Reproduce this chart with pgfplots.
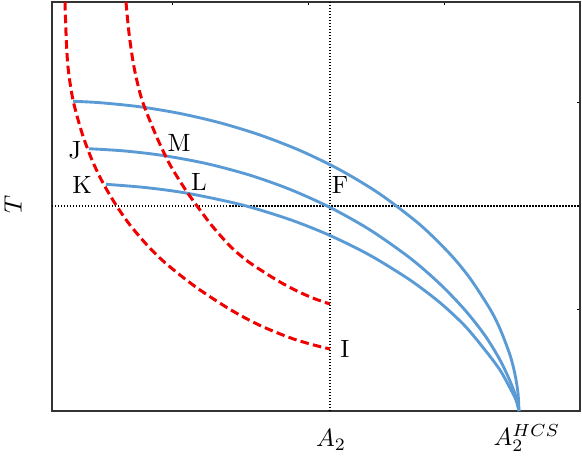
\documentclass[border=0pt]{standalone}
\usepackage{pgfplots}
\pgfplotsset{compat=1.18}

\definecolor{curveblue}{RGB}{91,155,213}
\definecolor{curvered}{RGB}{240,0,0}

\begin{document}
\begin{tikzpicture}
\begin{axis}[
  scale only axis,
  width=211.2pt, height=163.6pt,
  xmin=52, xmax=580, ymin=2, ymax=411,
  y dir=reverse,
  clip=false,
  xtick={173,309,445}, ytick={103,310},
  xticklabels={}, yticklabels={},
  xtick pos=right, ytick pos=right,
  tick align=inside,
  major tick length=1.3pt,
  tick style={black, line width=0.4pt},
  axis line style={black!80, line width=0.6pt},
]
% dotted guide lines
\addplot[black, line width=0.75pt, dash pattern=on 0.6pt off 0.6pt] coordinates {(330,2) (330,411)};
\addplot[black, line width=0.75pt, dash pattern=on 0.6pt off 0.6pt] coordinates {(52,206) (580,206)};

% blue curves
\addplot[curveblue, line width=1.15pt, smooth] coordinates {
  (73,101.3) (100,102.7) (140,106.8) (180,113.5) (220,122.8) (260,135.0)
  (300,150.5) (340,169.9) (380,194.1) (420,224.7) (450,254) (470,278.3)
  (490,309) (500,328.8) (510,355) (515,374.4) (518,393.3) (519,411)};
\addplot[curveblue, line width=1.15pt, smooth] coordinates {
  (89,148.7) (125,151) (163,155.5) (207,163.7) (250,175.2) (290,189.4)
  (330,207.4) (370,229.9) (410,258) (440,284) (465,310.1) (485,335.5)
  (500,360) (510,381) (516,397) (519,411)};
\addplot[curveblue, line width=1.15pt, smooth] coordinates {
  (106,184.3) (145,187.5) (187,193.2) (242,204.9) (290,219.6) (330,235.5)
  (370,255.3) (410,280) (440,302.7) (465,326) (485,350) (500,370)
  (510,388) (516,400) (519,411)};

% red dashed curves
\addplot[curvered, line width=1.2pt, dash pattern=on 3.4pt off 1.7pt, smooth] coordinates {
  (65,2) (66,33) (68,67) (73,100) (82,133) (92,160) (103,183) (116,205)
  (130,225) (147,245) (162,260) (180,275) (200,290) (231,310) (259,325)
  (288,337) (310,344) (330,349)};
\addplot[curvered, line width=1.2pt, dash pattern=on 3.4pt off 1.7pt, smooth] coordinates {
  (126,2) (129,33) (134,67) (142,100) (155,133) (165,155) (173,170)
  (187,192) (200,210) (213,227) (230,246) (246,260) (263,271.5) (280,282)
  (297,291) (314,298.5) (330,304)};

% point labels
\node at (axis cs:75,150) {J};
\node at (axis cs:179,143) {M};
\node at (axis cs:82,185) {K};
\node at (axis cs:199,182) {L};
\node at (axis cs:340,185) {F};
\node at (axis cs:345,349) {I};

% axis labels
\node[rotate=90] at (axis cs:13,204) {$T$};
\node at (axis cs:331,440) {$A_2$};
\node at (axis cs:527,438) {$A_2^{HCS}$};

\coordinate (bbl) at (axis cs:0,459);
\coordinate (btr) at (axis cs:582,0);
\end{axis}
\pgfresetboundingbox
\path (bbl) rectangle (btr);
\end{tikzpicture}
\end{document}
